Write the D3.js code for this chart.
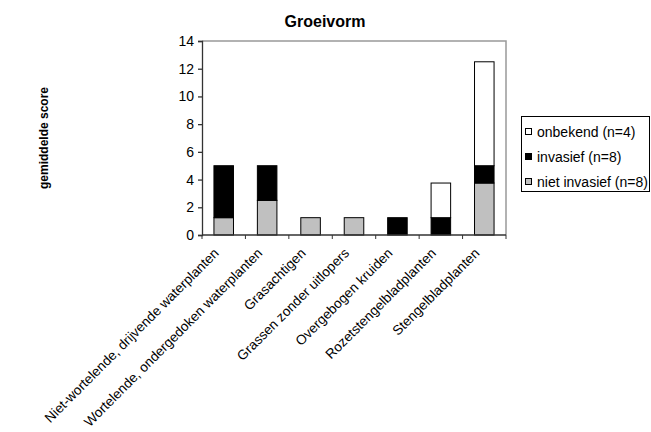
<!DOCTYPE html>
<html>
<head>
<meta charset="utf-8">
<script src="https://cdn.jsdelivr.net/npm/d3@7"></script>
<style>
body { margin: 0; background: #fff; }
svg { font-family: Arial, "Liberation Sans", sans-serif; }
</style>
</head>
<body>
<div id="chart-area"></div>
<script>
// data
var categories = ["Niet-wortelende, drijvende waterplanten", "Wortelende, ondergedoken waterplanten",
  "Grasachtigen", "Grassen zonder uitlopers", "Overgebogen kruiden",
  "Rozetstengelbladplanten", "Stengelbladplanten"];
var nietInvasief = [1.25, 2.5, 1.25, 1.25, 0, 0, 3.75];
var invasief = [3.75, 2.5, 0, 0, 1.25, 1.25, 1.25];
var onbekend = [0, 0, 0, 0, 0, 2.5, 7.5];
var seriesNames = ["niet invasief (n=8)", "invasief (n=8)", "onbekend (n=4)"];
var yTicks = [0, 2, 4, 6, 8, 10, 12, 14];

var colors = ["#c0c0c0", "#000000", "#ffffff"];

var svg = d3.select("#chart-area").append("svg")
    .attr("width", 651)
    .attr("height", 432);

var pLeft = 202, pRight = 506, pTop = 41, pBottom = 235;

var x = d3.scaleBand().domain(categories).range([pLeft, pRight]).paddingInner(0.55).paddingOuter(0.275);
var xb = d3.scaleBand().domain(categories).range([pLeft, pRight]);
var y = d3.scaleLinear().domain([0, 14]).range([pBottom, pTop]);

var rows = categories.map((c, i) => ({cat: c, s0: nietInvasief[i], s1: invasief[i], s2: onbekend[i]}));
var stack = d3.stack().keys(["s0", "s1", "s2"])(rows);

// plot border (grey top and right)
svg.append("path")
    .attr("d", `M${pLeft},${pTop}H${pRight}V${pBottom}`)
    .attr("fill", "none")
    .attr("stroke", "#999")
    .attr("stroke-width", 1.5);

// bars
stack.forEach((layer, k) => {
  svg.append("g").selectAll("rect")
    .data(layer.filter(d => d[1] - d[0] > 0))
    .enter().append("rect")
      .attr("x", d => x(d.data.cat))
      .attr("y", d => y(d[1]))
      .attr("width", x.bandwidth())
      .attr("height", d => y(d[0]) - y(d[1]))
      .attr("fill", colors[k])
      .attr("stroke", "#000")
      .attr("stroke-width", 1);
});

// y axis
var yAxis = svg.append("g")
    .attr("transform", `translate(${pLeft},0)`)
    .call(d3.axisLeft(y).tickValues(yTicks).tickSize(4).tickPadding(4));
yAxis.selectAll("text").attr("font-size", 14).attr("font-family", "Arial, 'Liberation Sans', sans-serif").attr("fill", "#000");
yAxis.selectAll("line, path").attr("stroke", "#333").attr("stroke-width", 1.3);

// x axis line and ticks at band edges
svg.append("line")
    .attr("x1", pLeft).attr("x2", pRight)
    .attr("y1", pBottom).attr("y2", pBottom)
    .attr("stroke", "#333").attr("stroke-width", 1.3);
svg.append("g").selectAll("line")
  .data(categories.concat(["_end"]))
  .enter().append("line")
    .attr("x1", (d, i) => i < categories.length ? xb(d) : pRight)
    .attr("x2", (d, i) => i < categories.length ? xb(d) : pRight)
    .attr("y1", pBottom).attr("y2", pBottom + 4)
    .attr("stroke", "#333").attr("stroke-width", 1);

// x labels
svg.append("g").selectAll("text")
  .data(categories)
  .enter().append("text")
    .attr("transform", d => `translate(${xb(d) + xb.bandwidth() / 2 - 4},${pBottom + 19}) rotate(-45)`)
    .attr("text-anchor", "end")
    .attr("font-size", 13.6)
    .attr("fill", "#000")
    .text(d => d);

// title
svg.append("text")
    .attr("x", 325).attr("y", 27)
    .attr("text-anchor", "middle")
    .attr("font-size", 16).attr("font-weight", "bold")
    .text("Groeivorm");

// y title
svg.append("text")
    .attr("transform", "translate(48,138) rotate(-90)")
    .attr("text-anchor", "middle")
    .attr("font-size", 12).attr("font-weight", "bold")
    .text("gemiddelde score");

// legend
var legend = svg.append("g");
legend.append("rect")
    .attr("x", 521.5).attr("y", 116.5)
    .attr("width", 128).attr("height", 75)
    .attr("fill", "#fff").attr("stroke", "#000").attr("stroke-width", 1);
var order = [2, 1, 0];
order.forEach((k, j) => {
  var ly = 132 + j * 25;
  legend.append("rect")
      .attr("x", 525.5).attr("y", ly - 3.5)
      .attr("width", 6).attr("height", 6)
      .attr("fill", colors[k]).attr("stroke", "#000").attr("stroke-width", 1);
  legend.append("text")
      .attr("x", 537).attr("y", ly + 5)
      .attr("font-size", 14)
      .text(seriesNames[k]);
});
</script>
</body>
</html>
